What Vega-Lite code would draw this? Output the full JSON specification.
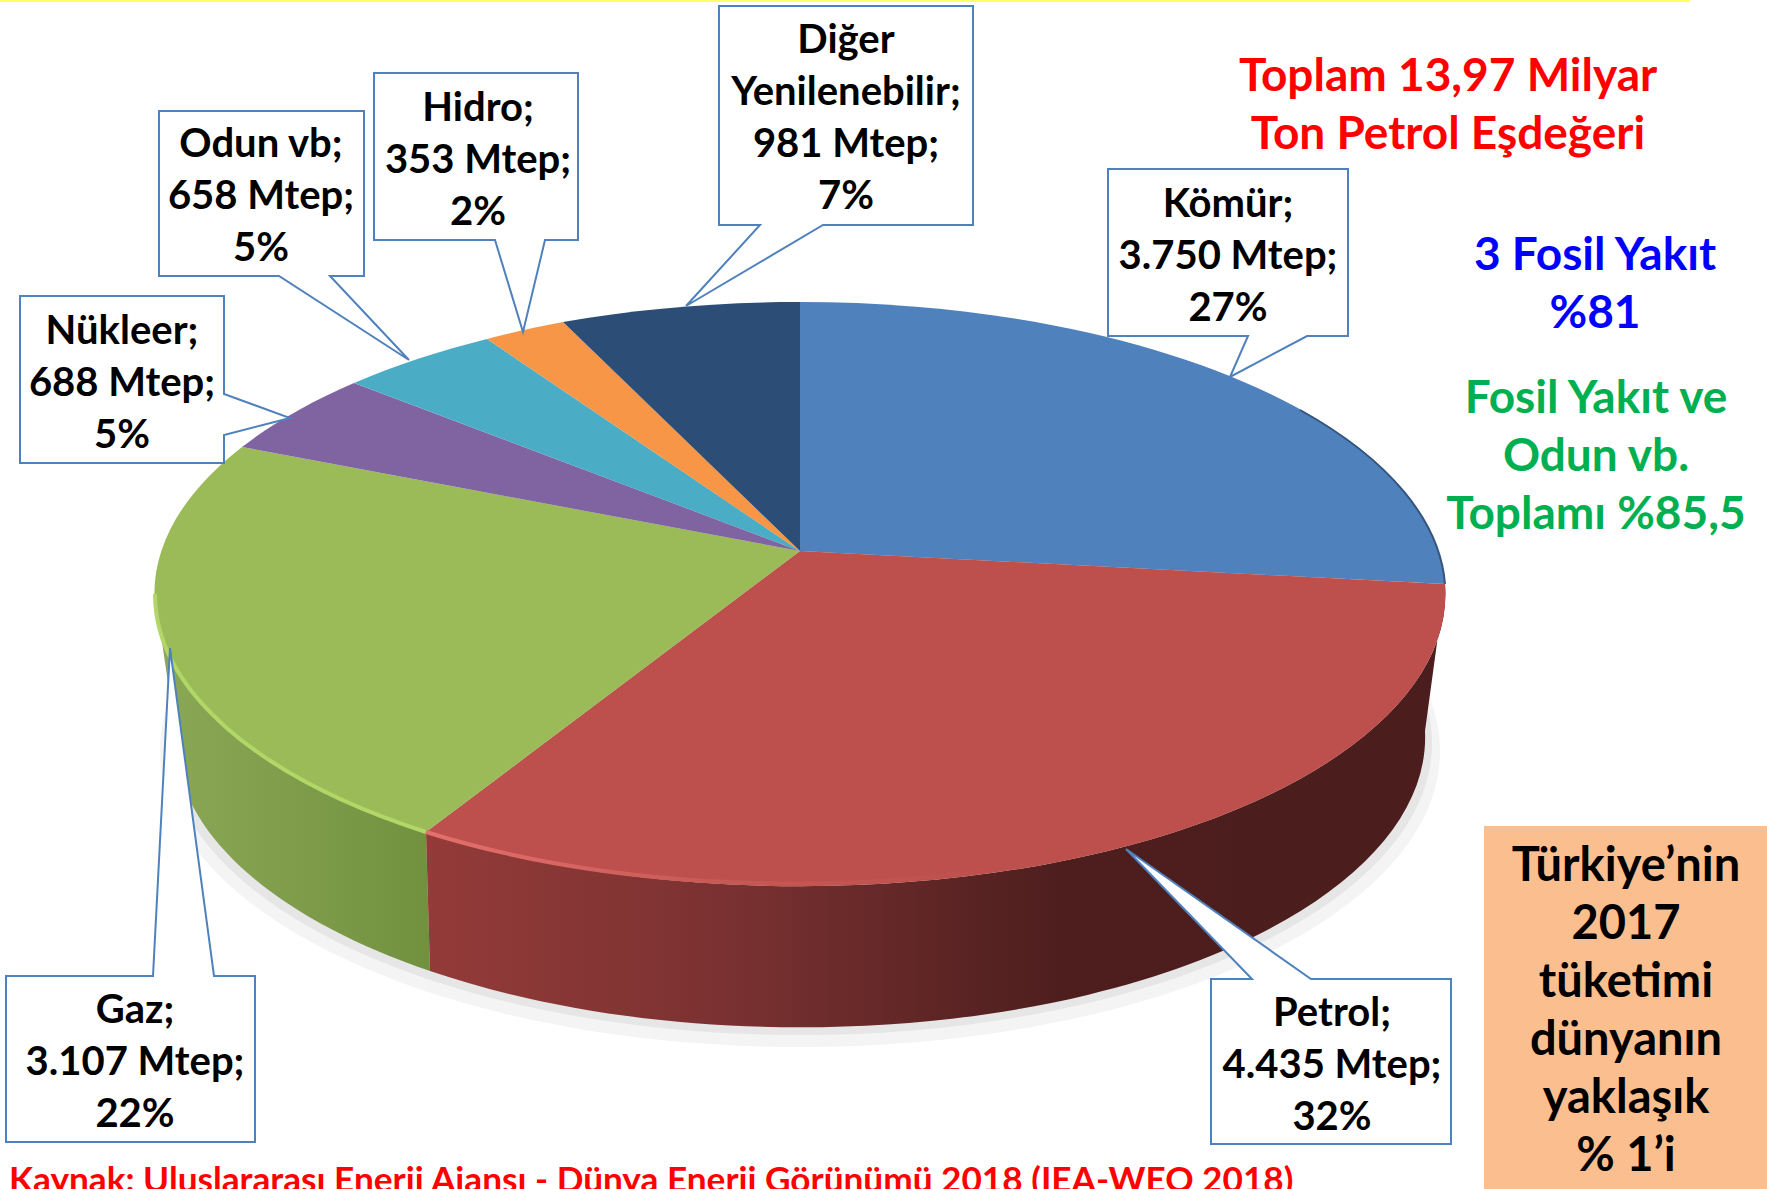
{"$schema":"https://vega.github.io/schema/vega-lite/v6.json","autosize":"none","width":1767,"height":1189,"padding":0,"background":"white","view":{"stroke":null},
"config":{"text":{"font":"Lato","fontWeight":"bold","lineBreak":"\n"}},
"datasets":{"slices":[
{"category":"Kömür","mtep":3750,"pct":27,"label":"Kömür;\n3.750 Mtep;\n27%"},
{"category":"Petrol","mtep":4435,"pct":32,"label":"Petrol;\n4.435 Mtep;\n32%"},
{"category":"Gaz","mtep":3107,"pct":22,"label":"Gaz;\n3.107 Mtep;\n22%"},
{"category":"Nükleer","mtep":688,"pct":5,"label":"Nükleer;\n688 Mtep;\n5%"},
{"category":"Odun vb","mtep":658,"pct":5,"label":"Odun vb;\n658 Mtep;\n5%"},
{"category":"Hidro","mtep":353,"pct":2,"label":"Hidro;\n353 Mtep;\n2%"},
{"category":"Diğer Yenilenebilir","mtep":981,"pct":7,"label":"Diğer\nYenilenebilir;\n981 Mtep;\n7%"}]},
"data":{"name":"slices"},
"layer":[
{"data":{"values":[{"part":"strip"}]},"mark":{"type":"rect","color":"#FFFF66"},"encoding":{"x":{"datum":0,"type":"quantitative","scale":{"domain":[0,1767]},"axis":null},"x2":{"datum":1690},"y":{"datum":0,"type":"quantitative","scale":{"domain":[0,1189],"reverse":true},"axis":null},"y2":{"datum":2}}},
{"data":{"values":[{"part":"box"}]},"mark":{"type":"rect","color":"#FBBE8E"},"encoding":{"x":{"datum":1484,"type":"quantitative","scale":{"domain":[0,1767]},"axis":null},"x2":{"datum":1767},"y":{"datum":826,"type":"quantitative","scale":{"domain":[0,1189],"reverse":true},"axis":null},"y2":{"datum":1189}}},
{"data":{"values":[{"part":"shadow outer"}]},"mark":{"type":"point","filled":true,"opacity":1},"encoding":{"x":{"datum":800,"type":"quantitative","scale":{"domain":[0,1767]},"axis":null},"y":{"datum":551,"type":"quantitative","scale":{"domain":[0,1189],"reverse":true},"axis":null},"size":{"value":4},"fill":{"value":"#f4f4f4"},"shape":{"value":"M-640,200 A640,296 0 1 0 640,200 A640,296 0 1 0 -640,200 Z"}}},
{"data":{"values":[{"part":"shadow inner"}]},"mark":{"type":"point","filled":true,"opacity":1},"encoding":{"x":{"datum":800,"type":"quantitative","scale":{"domain":[0,1767]},"axis":null},"y":{"datum":551,"type":"quantitative","scale":{"domain":[0,1189],"reverse":true},"axis":null},"size":{"value":4},"fill":{"value":"#e6e6e6"},"shape":{"value":"M-632,192 A632,292 0 1 0 632,192 A632,292 0 1 0 -632,192 Z"}}},
{"data":{"values":[{"part":"wall Gaz"}]},"mark":{"type":"point","filled":true,"opacity":1},"encoding":{"x":{"datum":800,"type":"quantitative","scale":{"domain":[0,1767]},"axis":null},"y":{"datum":551,"type":"quantitative","scale":{"domain":[0,1189],"reverse":true},"axis":null},"size":{"value":4},"fill":{"value":{"gradient":"linear","x1":0,"y1":0,"x2":1,"y2":0,"stops":[{"offset":0,"color":"#8BA857"},{"offset":1,"color":"#72913F"}]}},"shape":{"value":"M-374,281 L-370,420 A625,290 0 0 1 -625,180 L-645,43 A645,292 0 0 0 -374,281 Z"}}},
{"data":{"values":[{"part":"wall Petrol"}]},"mark":{"type":"point","filled":true,"opacity":1},"encoding":{"x":{"datum":800,"type":"quantitative","scale":{"domain":[0,1767]},"axis":null},"y":{"datum":551,"type":"quantitative","scale":{"domain":[0,1189],"reverse":true},"axis":null},"size":{"value":4},"fill":{"value":{"gradient":"linear","x1":0,"y1":0,"x2":1,"y2":0,"stops":[{"offset":0,"color":"#933B39"},{"offset":0.3,"color":"#7A3131"},{"offset":0.62,"color":"#4E1E1E"},{"offset":1,"color":"#4B1D1D"}]}},"shape":{"value":"M645,33 A645,292 0 0 1 -374,281 L-370,420 A625,290 0 0 0 625,180 Z"}}},
{"mark":{"type":"point","filled":true,"opacity":1},"encoding":{"x":{"datum":800,"type":"quantitative","scale":{"domain":[0,1767]},"axis":null},"y":{"datum":551,"type":"quantitative","scale":{"domain":[0,1189],"reverse":true},"axis":null},"size":{"value":4},
"fill":{"field":"category","type":"nominal","legend":null,"scale":{"domain":["Kömür","Petrol","Gaz","Nükleer","Odun vb","Hidro","Diğer Yenilenebilir"],"range":["#4F81BD","#BD4F4C","#9BBB59","#8064A2","#4BACC6","#F79646","#2C4D75"]}},
"shape":{"field":"category","type":"nominal","legend":null,"scale":{"domain":["Kömür","Petrol","Gaz","Nükleer","Odun vb","Hidro","Diğer Yenilenebilir"],"range":["M0,0 L0,-249 A645,292 0 0 1 645,33 Z","M0,0 L645,33 A645,292 0 0 1 -374,281 Z","M0,0 L-374,281 A645,292 0 0 1 -558,-104 Z","M0,0 L-558,-104 A645,292 0 0 1 -446,-168 Z","M0,0 L-446,-168 A645,292 0 0 1 -313,-212 Z","M0,0 L-313,-212 A645,292 0 0 1 -237,-229 Z","M0,0 L-237,-229 A645,292 0 0 1 0,-249 Z"]}}}},
{"data":{"values":[{"part":"rim Gaz"}]},"mark":{"type":"point","filled":false,"opacity":1,"strokeWidth":4},"encoding":{"x":{"datum":800,"type":"quantitative","scale":{"domain":[0,1767]},"axis":null},"y":{"datum":551,"type":"quantitative","scale":{"domain":[0,1189],"reverse":true},"axis":null},"size":{"value":4},"stroke":{"value":"#B3D668"},"shape":{"value":"M-374,281 A645,292 0 0 1 -645,43"}}},
{"data":{"values":[{"part":"rim Petrol"}]},"mark":{"type":"point","filled":false,"opacity":1,"strokeWidth":4},"encoding":{"x":{"datum":800,"type":"quantitative","scale":{"domain":[0,1767]},"axis":null},"y":{"datum":551,"type":"quantitative","scale":{"domain":[0,1189],"reverse":true},"axis":null},"size":{"value":4},"stroke":{"value":{"gradient":"linear","x1":0,"y1":0,"x2":1,"y2":0,"stops":[{"offset":0,"color":"#E56F6B"},{"offset":0.5,"color":"#C85A56"},{"offset":1,"color":"#BD4F4C"}]}},"shape":{"value":"M-374,281 A645,292 0 0 0 200,317"}}},
{"data":{"values":[{"part":"rim Kömür"}]},"mark":{"type":"point","filled":false,"opacity":1,"strokeWidth":2},"encoding":{"x":{"datum":800,"type":"quantitative","scale":{"domain":[0,1767]},"axis":null},"y":{"datum":551,"type":"quantitative","scale":{"domain":[0,1189],"reverse":true},"axis":null},"size":{"value":4},"stroke":{"value":"#34557F"},"shape":{"value":"M500,-141 A645,292 0 0 1 645,33"}}},
{"mark":{"type":"point","filled":true,"opacity":1,"stroke":"#4F81BD","strokeWidth":2},"encoding":{"x":{"datum":0,"type":"quantitative","scale":{"domain":[0,1767]},"axis":null},"y":{"datum":0,"type":"quantitative","scale":{"domain":[0,1189],"reverse":true},"axis":null},"size":{"value":4},"fill":{"value":"white"},
"shape":{"field":"category","type":"nominal","legend":null,"scale":{"domain":["Kömür","Petrol","Gaz","Nükleer","Odun vb","Hidro","Diğer Yenilenebilir"],"range":[
"M1108,169 H1348 V336 H1307 L1230,377 L1248,336 H1108 Z",
"M1211,979 H1252 L1126,849 L1311,979 H1451 V1144 H1211 Z",
"M6,976 H153 L170,648 L214,976 H255 V1142 H6 Z",
"M20,296 H224 V394 L290,418 L224,435 V463 H20 Z",
"M159,111 H364 V276 H330 L409,360 L279,276 H159 Z",
"M374,73 H578 V240 H545 L523,332 L495,240 H374 Z",
"M719,6 H973 V225 H823 L686,306 L760,225 H719 Z"]}}}},
{"transform":[{"filter":"datum.category==='Kömür'"}],"mark":{"type":"text","fontSize":40,"lineHeight":52,"color":"black","align":"center","baseline":"middle"},"encoding":{"x":{"datum":1228,"type":"quantitative","scale":{"domain":[0,1767]},"axis":null},"y":{"datum":205,"type":"quantitative","scale":{"domain":[0,1189],"reverse":true},"axis":null},"text":{"field":"label"}}},
{"transform":[{"filter":"datum.category==='Petrol'"}],"mark":{"type":"text","fontSize":40,"lineHeight":52,"color":"black","align":"center","baseline":"middle"},"encoding":{"x":{"datum":1332,"type":"quantitative","scale":{"domain":[0,1767]},"axis":null},"y":{"datum":1014,"type":"quantitative","scale":{"domain":[0,1189],"reverse":true},"axis":null},"text":{"field":"label"}}},
{"transform":[{"filter":"datum.category==='Gaz'"}],"mark":{"type":"text","fontSize":40,"lineHeight":52,"color":"black","align":"center","baseline":"middle"},"encoding":{"x":{"datum":135,"type":"quantitative","scale":{"domain":[0,1767]},"axis":null},"y":{"datum":1011,"type":"quantitative","scale":{"domain":[0,1189],"reverse":true},"axis":null},"text":{"field":"label"}}},
{"transform":[{"filter":"datum.category==='Nükleer'"}],"mark":{"type":"text","fontSize":40,"lineHeight":52,"color":"black","align":"center","baseline":"middle"},"encoding":{"x":{"datum":122,"type":"quantitative","scale":{"domain":[0,1767]},"axis":null},"y":{"datum":332,"type":"quantitative","scale":{"domain":[0,1189],"reverse":true},"axis":null},"text":{"field":"label"}}},
{"transform":[{"filter":"datum.category==='Odun vb'"}],"mark":{"type":"text","fontSize":40,"lineHeight":52,"color":"black","align":"center","baseline":"middle"},"encoding":{"x":{"datum":261,"type":"quantitative","scale":{"domain":[0,1767]},"axis":null},"y":{"datum":145,"type":"quantitative","scale":{"domain":[0,1189],"reverse":true},"axis":null},"text":{"field":"label"}}},
{"transform":[{"filter":"datum.category==='Hidro'"}],"mark":{"type":"text","fontSize":40,"lineHeight":52,"color":"black","align":"center","baseline":"middle"},"encoding":{"x":{"datum":478,"type":"quantitative","scale":{"domain":[0,1767]},"axis":null},"y":{"datum":109,"type":"quantitative","scale":{"domain":[0,1189],"reverse":true},"axis":null},"text":{"field":"label"}}},
{"transform":[{"filter":"datum.category==='Diğer Yenilenebilir'"}],"mark":{"type":"text","fontSize":40,"lineHeight":52,"color":"black","align":"center","baseline":"middle"},"encoding":{"x":{"datum":846,"type":"quantitative","scale":{"domain":[0,1767]},"axis":null},"y":{"datum":41,"type":"quantitative","scale":{"domain":[0,1189],"reverse":true},"axis":null},"text":{"field":"label"}}},
{"data":{"values":[{"label":"Toplam 13,97 Milyar\nTon Petrol Eşdeğeri"}]},"mark":{"type":"text","fontSize":46,"lineHeight":58,"color":"#FF0000","align":"center","baseline":"middle"},"encoding":{"x":{"datum":1448,"type":"quantitative","scale":{"domain":[0,1767]},"axis":null},"y":{"datum":77,"type":"quantitative","scale":{"domain":[0,1189],"reverse":true},"axis":null},"text":{"field":"label"}}},
{"data":{"values":[{"label":"3 Fosil Yakıt\n%81"}]},"mark":{"type":"text","fontSize":46,"lineHeight":58,"color":"#0000FF","align":"center","baseline":"middle"},"encoding":{"x":{"datum":1595,"type":"quantitative","scale":{"domain":[0,1767]},"axis":null},"y":{"datum":256,"type":"quantitative","scale":{"domain":[0,1189],"reverse":true},"axis":null},"text":{"field":"label"}}},
{"data":{"values":[{"label":"Fosil Yakıt ve\nOdun vb.\nToplamı %85,5"}]},"mark":{"type":"text","fontSize":46,"lineHeight":58,"color":"#00B050","align":"center","baseline":"middle"},"encoding":{"x":{"datum":1596,"type":"quantitative","scale":{"domain":[0,1767]},"axis":null},"y":{"datum":399,"type":"quantitative","scale":{"domain":[0,1189],"reverse":true},"axis":null},"text":{"field":"label"}}},
{"data":{"values":[{"label":"Türkiye’nin\n2017\ntüketimi\ndünyanın\nyaklaşık\n% 1’i"}]},"mark":{"type":"text","fontSize":47,"lineHeight":58,"color":"black","align":"center","baseline":"middle"},"encoding":{"x":{"datum":1626,"type":"quantitative","scale":{"domain":[0,1767]},"axis":null},"y":{"datum":867,"type":"quantitative","scale":{"domain":[0,1189],"reverse":true},"axis":null},"text":{"field":"label"}}},
{"data":{"values":[{"label":"Kaynak:  Uluslararası Enerji Ajansı - Dünya Enerji Görünümü 2018 (IEA-WEO 2018)"}]},"mark":{"type":"text","fontSize":35.2,"color":"#FF0000","align":"left","baseline":"alphabetic"},"encoding":{"x":{"datum":9,"type":"quantitative","scale":{"domain":[0,1767]},"axis":null},"y":{"datum":1192,"type":"quantitative","scale":{"domain":[0,1189],"reverse":true},"axis":null},"text":{"field":"label"}}}
],
"resolve":{"scale":{"shape":"independent"}}}
